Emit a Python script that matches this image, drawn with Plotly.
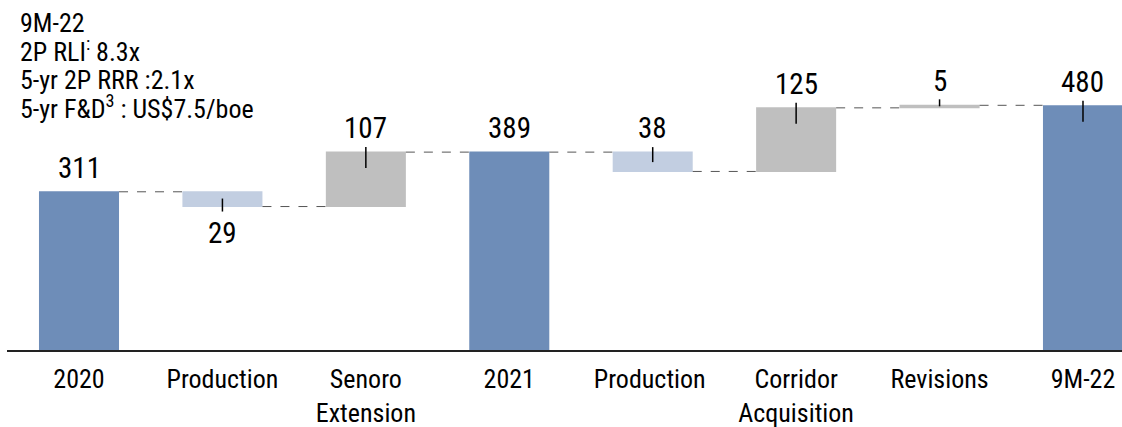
import plotly.graph_objects as go

categories = ["2020", "Production", "Senoro<br>Extension", "2021", "Production ", "Corridor<br>Acquisition", "Revisions", "9M-22"]
values = [311, -29, 107, 389, -38, 125, 5, 480]
measures = ["absolute", "relative", "relative", "total", "relative", "relative", "relative", "absolute"]
labels = ["311", "29", "107", "389", "38", "125", "5", "480"]
label_below = [False, True, False, False, False, False, False, False]
has_leader = [False, True, True, False, True, True, True, True]
note_lines = ["9M-22", "2P RLI<sup>:</sup> 8.3x", "5-yr 2P RRR :2.1x", "5-yr F&D<sup>3</sup> : US$7.5/boe"]

FONT = "Roboto Condensed, Liberation Sans Narrow, Arial Narrow, sans-serif"

# running totals for bar extents
tops, bottoms = [], []
run = 0
for v, m in zip(values, measures):
    if m == "absolute":
        start, end = 0, v
        run = v
    elif m == "total":
        start, end = 0, run
    else:
        start, end = run, run + v
        run = run + v
    tops.append(max(start, end))
    bottoms.append(min(start, end))

fig = go.Figure(go.Waterfall(
    x=list(range(len(categories))),
    y=values,
    measure=measures,
    width=0.558,
    increasing=dict(marker=dict(color="#BFBFBF")),
    decreasing=dict(marker=dict(color="#C2CEE1")),
    totals=dict(marker=dict(color="#6E8DB8")),
    connector=dict(line=dict(color="#555555", width=1, dash="dash")),
    textposition="none",
    hoverinfo="skip",
))

shapes = []
annotations = []
for i, lab in enumerate(labels):
    if label_below[i]:
        annotations.append(dict(x=i, y=bottoms[i], xref="x", yref="y", text=lab, showarrow=False,
                                yanchor="top", yshift=-7, font=dict(family=FONT, size=29, color="#000")))
    else:
        annotations.append(dict(x=i, y=tops[i], xref="x", yref="y", text=lab, showarrow=False,
                                yanchor="bottom", yshift=5, font=dict(family=FONT, size=29, color="#000")))
    if has_leader[i]:
        if label_below[i]:
            y0, y1, anchor = 8, -5, bottoms[i]
        elif i == 6:
            y0, y1, anchor = 6, -1, tops[i]
        elif i == 4:
            y0, y1, anchor = 5, -10, tops[i]
        else:
            y0, y1, anchor = 5, -16, tops[i]
        shapes.append(dict(type="line", xref="x", yref="y", x0=i, x1=i, ysizemode="pixel",
                           yanchor=anchor, y0=y0, y1=y1, line=dict(color="#000", width=1.5)))

for k, line in enumerate(note_lines):
    annotations.append(dict(
        x=0, y=1, xref="paper", yref="paper", xanchor="left", yanchor="bottom",
        xshift=11, yshift=-(40 + 28.7 * k),
        text=line, align="left", showarrow=False,
        font=dict(family=FONT, size=26, color="#000"),
    ))

fig.update_layout(
    width=1122, height=427,
    margin=dict(l=7, r=0, t=0, b=77),
    paper_bgcolor="white", plot_bgcolor="white",
    showlegend=False,
    shapes=shapes,
    annotations=annotations,
    xaxis=dict(
        range=[-0.502, 7.272], automargin=False,
        tickmode="array", tickvals=list(range(len(categories))), ticktext=categories,
        showgrid=False, zeroline=False, showline=True, linecolor="#222", linewidth=2,
        ticks="", ticklabelstandoff=5, tickfont=dict(family=FONT, size=26, color="#000"),
    ),
    yaxis=dict(range=[0, 688], visible=False, showgrid=False, zeroline=False, automargin=False),
)

fig.write_html("out.html", config={"displayModeBar": False},
               post_script="document.body.style.margin='0px';")
